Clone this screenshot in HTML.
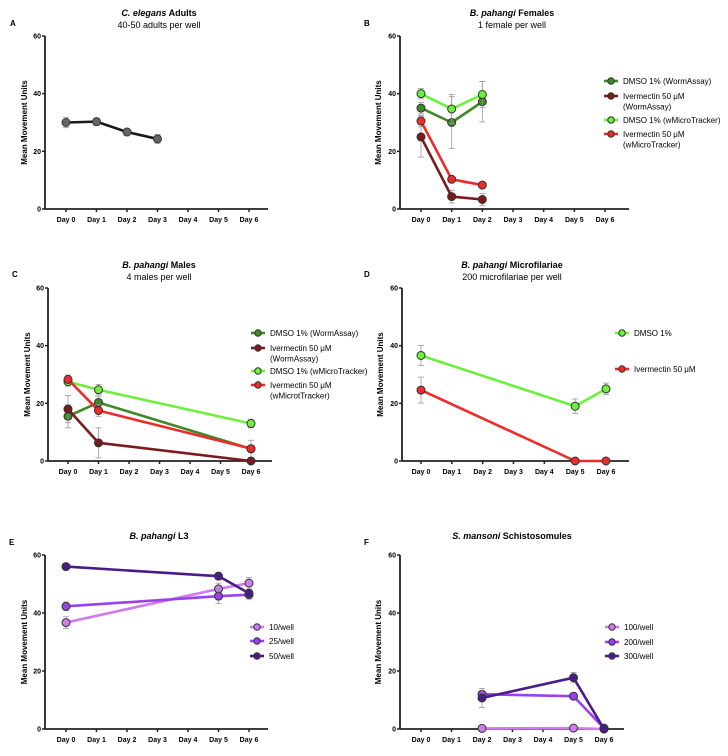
<!DOCTYPE html>
<html><head><meta charset="utf-8">
<style>
body{margin:0;background:#fff;width:728px;height:751px;overflow:hidden;font-family:"Liberation Sans",Arial,sans-serif}
svg text{font-family:"Liberation Sans",Arial,sans-serif}
</style></head>
<body>
<svg id="fig" width="728" height="751" viewBox="0 0 728 751" xmlns="http://www.w3.org/2000/svg"></svg>
<script>
const days = ["Day 0","Day 1","Day 2","Day 3","Day 4","Day 5","Day 6"];
const yTicks = [0,20,40,60];
// Panel A
const aX = [0,1,2,3];
const aVals = [30,30.3,26.7,24.3];
const aErr = [1.8,1.3,0.8,1.5];
// Panel B
const bX = [0,1,2];
const bDmsoWA = [35,30,37.2];
const bDmsoWAErr = [2,9,7];
const bIverWA = [25,4.3,3.3];
const bIverWAErr = [7,2.2,2];
const bDmsoMT = [40,34.7,39.7];
const bDmsoMTErr = [1.8,5,4.5];
const bIverMT = [30.5,10.3,8.3];
const bIverMTErr = [2,0.8,0.8];
// Panel C
const cX = [0,1,6];
const cDmsoWA = [15.5,20.3,4.2];
const cDmsoWAErr = [4,2,3];
const cIverWA = [18,6.3,0];
const cIverWAErr = [4.7,5.2,0];
const cDmsoMT = [27.5,24.7,13];
const cDmsoMTErr = [1.5,1.8,1.5];
const cIverMT = [28.3,17.5,4.3];
const cIverMTErr = [1.5,2,1];
// Panel D
const dX = [0,5,6];
const dDmso = [36.6,19,25];
const dDmsoErr = [3.5,2.5,2];
const dIver = [24.6,0,0];
const dIverErr = [4.5,0,0];
// Panel E
const eX = [0,5,6];
const e10 = [36.7,48.3,50.3];
const e10Err = [2,2,2];
const e25 = [42.3,45.8,46.3];
const e25Err = [1.5,2.5,1.5];
const e50 = [56,52.7,46.8];
const e50Err = [0.8,1.2,1.2];
// Panel F
const fX = [2,5,6];
const f100 = [0.2,0.3,0];
const f100Err = [0,0,0];
const f200 = [12,11.3,0.3];
const f200Err = [1,0.8,0];
const f300 = [10.7,17.7,0];
const f300Err = [3.3,1.8,0];

const C = {g:"#3f8a28",dr:"#7a1a1c",lg:"#6cf03c",r:"#ee2b2b",p1:"#d07cf0",p2:"#9a40ee",p3:"#4a1c88"};
const svg = document.getElementById('fig');
const NS = "http://www.w3.org/2000/svg";
function mk(tag, attrs, parent){const e=document.createElementNS(NS,tag);for(const k in attrs)e.setAttribute(k,attrs[k]);(parent||svg).appendChild(e);return e;}

function panel(p){
  const g = mk('g',{});
  
  
  const X = i => p.x0 + (p.x6-p.x0)*i/6;
  const Y = v => p.yb - (p.yb-p.yt)*v/60;
  let t = mk('text',{x:p.lx,y:p.ly,'font-size':8,'font-weight':'bold'},g); t.textContent=p.id;
   
  t = mk('text',{x:p.tx,y:p.ty,'font-size':9,'font-weight':'bold','text-anchor':'middle'},g);
  t.innerHTML = '<tspan font-style="italic">'+p.ti+'</tspan> '+p.tb;
   
  if(p.sub){t = mk('text',{x:p.tx,y:p.ty+12,'font-size':9,'text-anchor':'middle'},g); t.textContent=p.sub;
     }
  let a = mk('line',{x1:p.ax,y1:p.yt,x2:p.ax,y2:p.yb,stroke:'#222','stroke-width':1.8},g);
   
  a = mk('line',{x1:p.ax,y1:p.yb,x2:p.xe,y2:p.yb,stroke:'#222','stroke-width':1.8},g);
   
  yTicks.forEach(v=>{
    mk('line',{x1:p.ax-3,y1:Y(v),x2:p.ax,y2:Y(v),stroke:'#222','stroke-width':1.5},g);
    const tt = mk('text',{x:p.ax-4,y:Y(v)+2.5,'font-size':7,'font-weight':'bold','text-anchor':'end'},g); tt.textContent=v;
     
  });
  days.forEach((d,i)=>{
    mk('line',{x1:X(i),y1:p.yb,x2:X(i),y2:p.yb+3,stroke:'#222','stroke-width':1.5},g);
    const tt = mk('text',{x:X(i),y:p.yb+13,'font-size':7,'font-weight':'bold','text-anchor':'middle'},g); tt.textContent=d;
     
  });
  const yl = mk('text',{x:0,y:0,'font-size':8,'font-weight':'bold','text-anchor':'middle',transform:`translate(${p.ylx},${(p.yt+p.yb)/2}) rotate(-90)`},g);
  yl.textContent='Mean Movement Units';
   
  p.series.forEach(s=>{
    const sg = mk('g',{},g);
    
    
    s.e.forEach((e,i)=>{ if(e>0){
      const x=X(s.x[i]);
      mk('line',{x1:x,y1:Y(s.v[i]+e),x2:x,y2:Y(s.v[i]-e),stroke:'#999','stroke-width':0.8},sg);
      mk('line',{x1:x-3,y1:Y(s.v[i]+e),x2:x+3,y2:Y(s.v[i]+e),stroke:'#999','stroke-width':0.8},sg);
      mk('line',{x1:x-3,y1:Y(s.v[i]-e),x2:x+3,y2:Y(s.v[i]-e),stroke:'#999','stroke-width':0.8},sg);
    }});
    const pts = s.v.map((v,i)=>X(s.x[i])+','+Y(v)).join(' ');
    const pl = mk('polyline',{points:pts,fill:'none',stroke:s.c,'stroke-width':2.6,'stroke-linejoin':'round'},sg);
     
    s.v.forEach((v,i)=>{
      const c = mk('circle',{cx:X(s.x[i]),cy:Y(v),r:4,fill:s.mf||s.c,stroke:'#333','stroke-width':1},sg);
       
    });
  });
  if(p.leg){
    p.series.forEach((s,k)=>{
      const lg = mk('g',{},g);
      
      
      const y = p.leg.y[k];
      mk('line',{x1:p.leg.x-7,y1:y,x2:p.leg.x+7,y2:y,stroke:s.c,'stroke-width':2.6},lg);
      mk('circle',{cx:p.leg.x,cy:y,r:3.2,fill:s.c,stroke:'#333','stroke-width':1},lg);
      const lines = s.name.split('|');
      lines.forEach((ln,j)=>{
        const tt = mk('text',{x:p.leg.x+12,y:y+3+j*10.5,'font-size':8},lg); tt.textContent=ln;
      });
    });
  }
}
panel({id:'A',lx:10,ly:26,tx:159,ty:16,ti:'C. elegans',tb:'Adults',sub:'40-50 adults per well',
  ax:45,yt:36,yb:209,x0:66,x6:249,xe:268,ylx:27,
  series:[{name:'C elegans',x:aX,v:aVals,e:aErr,c:'#1a1a1a',mf:'#666'}]});
panel({id:'B',lx:364,ly:26,tx:512,ty:16,ti:'B. pahangi',tb:'Females',sub:'1 female per well',
  ax:400,yt:36,yb:209,x0:421,x6:605,xe:629,ylx:381,
  leg:{x:611,y:[81,96,120,134]},
  series:[{name:'DMSO 1% (WormAssay)',x:bX,v:bDmsoWA,e:bDmsoWAErr,c:C.g},
          {name:'Ivermectin 50 μM|(WormAssay)',x:bX,v:bIverWA,e:bIverWAErr,c:C.dr},
          {name:'DMSO 1% (wMicroTracker)',x:bX,v:bDmsoMT,e:bDmsoMTErr,c:C.lg},
          {name:'Ivermectin 50 μM|(wMicroTracker)',x:bX,v:bIverMT,e:bIverMTErr,c:C.r}]});
panel({id:'C',lx:12,ly:277,tx:159,ty:268,ti:'B. pahangi',tb:'Males',sub:'4 males per well',
  ax:48,yt:288,yb:461,x0:68,x6:251,xe:272,ylx:30,
  leg:{x:258,y:[333,348,371,385]},
  series:[{name:'DMSO 1% (WormAssay)',x:cX,v:cDmsoWA,e:cDmsoWAErr,c:C.g},
          {name:'Ivermectin 50 μM|(WormAssay)',x:cX,v:cIverWA,e:cIverWAErr,c:C.dr},
          {name:'DMSO 1% (wMicroTracker)',x:cX,v:cDmsoMT,e:cDmsoMTErr,c:C.lg},
          {name:'Ivermectin 50 μM|(wMicrotTracker)',x:cX,v:cIverMT,e:cIverMTErr,c:C.r}]});
panel({id:'D',lx:364,ly:277,tx:512,ty:268,ti:'B. pahangi',tb:'Microfilariae',sub:'200 microfilariae per well',
  ax:402,yt:288,yb:461,x0:421,x6:606,xe:629,ylx:383,
  leg:{x:622,y:[333,369]},
  series:[{name:'DMSO 1%',x:dX,v:dDmso,e:dDmsoErr,c:C.lg},
          {name:'Ivermectin 50 μM',x:dX,v:dIver,e:dIverErr,c:C.r}]});
panel({id:'E',lx:9,ly:545,tx:159,ty:539,ti:'B. pahangi',tb:'L3',
  ax:45,yt:555,yb:729,x0:66,x6:249,xe:268,ylx:27,
  leg:{x:257,y:[627,641,656]},
  series:[{name:'10/well',x:eX,v:e10,e:e10Err,c:C.p1},
          {name:'25/well',x:eX,v:e25,e:e25Err,c:C.p2},
          {name:'50/well',x:eX,v:e50,e:e50Err,c:C.p3}]});
panel({id:'F',lx:364,ly:545,tx:512,ty:539,ti:'S. mansoni',tb:'Schistosomules',
  ax:400,yt:555,yb:729,x0:421,x6:604,xe:624,ylx:381,
  leg:{x:612,y:[627,642,656]},
  series:[{name:'100/well',x:fX,v:f100,e:f100Err,c:C.p1},
          {name:'200/well',x:fX,v:f200,e:f200Err,c:C.p2},
          {name:'300/well',x:fX,v:f300,e:f300Err,c:C.p3}]});
</script>
</body></html>
